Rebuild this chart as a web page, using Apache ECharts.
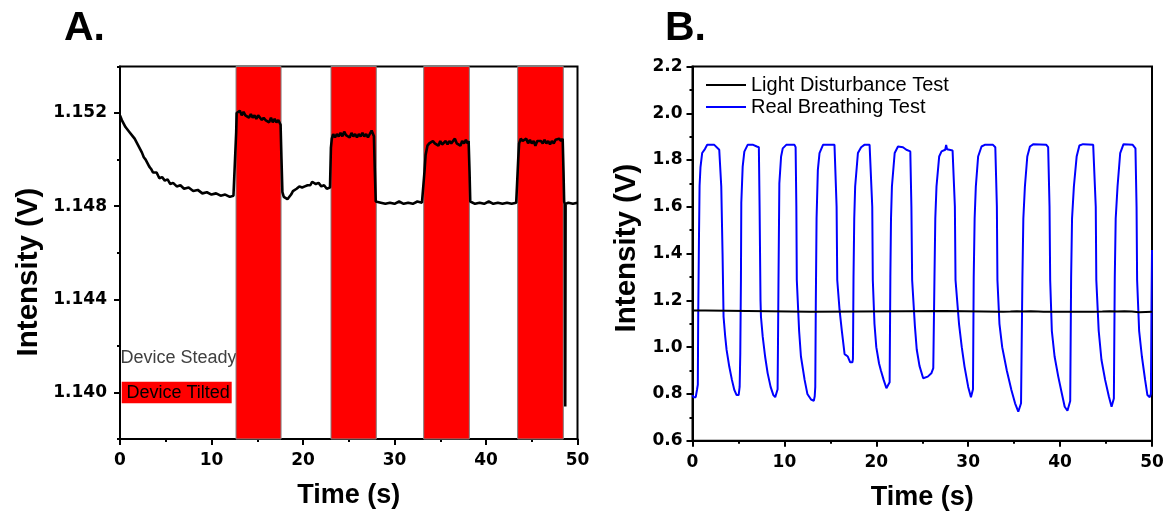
<!DOCTYPE html>
<html><head><meta charset="utf-8">
<script src="https://cdn.jsdelivr.net/npm/echarts@6/dist/echarts.min.js"></script>
<style>html,body{margin:0;padding:0;background:#fff}#c{width:1169px;height:517px}</style>
</head><body><div id="c"></div>
<script>
// ---------- data ----------
const xTicks = [0, 10, 20, 30, 40, 50];
const yTicksA = [1.140, 1.144, 1.148, 1.152];
const yMinorA = [1.138, 1.142, 1.146, 1.150, 1.154];
const tiltBands = [[12.68, 17.6], [23.06, 28.01], [33.19, 38.18], [43.46, 48.45]];

const steadyA = [
  [0,1.1519],[0.2,1.1517],[0.4,1.15165],[0.6,1.1514],[0.8,1.15135],[1.0,1.1512],[1.2,1.15115],[1.4,1.1510],
  [1.6,1.1509],[1.8,1.15085],[2.0,1.1506],[2.2,1.15055],[2.4,1.1503],[2.6,1.1501],[2.8,1.1500],[3.0,1.14985],
  [3.2,1.1497],[3.4,1.1496],[3.6,1.14945],[3.8,1.1494],[4.0,1.14945],[4.3,1.1492],[4.6,1.14925],[4.9,1.1491],
  [5.2,1.14915],[5.5,1.14895],[5.8,1.1490],[6.2,1.14885],[6.6,1.1489],[7.0,1.14875],[7.5,1.1488],[8.0,1.14865],
  [8.5,1.1487],[9.0,1.14855],[9.5,1.1486],[10.0,1.1485],[10.5,1.14855],[11.0,1.14845],[11.5,1.1485],[12.0,1.1484],
  [12.4,1.14845],[12.6,1.1485],
  [12.7,1.1512],[12.75,1.1520],[12.9,1.15195],[13.1,1.1521],[13.3,1.1519],[13.5,1.15205],[13.7,1.1519],[13.9,1.15195],
  [14.1,1.1518],[14.3,1.15195],[14.5,1.1518],[14.7,1.1519],[14.9,1.15175],[15.1,1.1519],[15.3,1.15185],[15.5,1.1517],
  [15.7,1.1518],[15.9,1.1517],[16.1,1.15175],[16.3,1.1516],[16.5,1.1518],[16.7,1.1516],[16.9,1.15175],[17.1,1.1516],
  [17.3,1.1517],[17.55,1.1515],
  [17.65,1.1500],[17.75,1.1486],[17.9,1.1484],[18.1,1.14835],[18.3,1.1483],[18.5,1.14835],[18.7,1.1485],[18.9,1.14865],
  [19.1,1.1487],[19.3,1.14875],[19.6,1.14885],[19.9,1.1488],[20.2,1.14885],[20.5,1.1489],[20.8,1.1489],[21.0,1.14905],
  [21.2,1.1491],[21.4,1.14895],[21.7,1.1490],[22.0,1.14885],[22.3,1.1489],[22.6,1.14875],[22.95,1.1488],
  [23.05,1.1505],[23.15,1.1509],[23.3,1.1511],[23.5,1.15095],[23.7,1.1511],[23.9,1.1510],[24.1,1.15115],[24.3,1.1510],
  [24.5,1.1512],[24.7,1.15105],[24.9,1.1511],[25.1,1.15095],[25.3,1.15115],[25.5,1.1510],[25.7,1.1511],[25.9,1.15095],
  [26.1,1.1511],[26.3,1.1510],[26.5,1.15115],[26.7,1.1510],[26.9,1.1511],[27.1,1.15095],[27.3,1.1511],[27.5,1.15125],
  [27.75,1.1510],
  [27.85,1.1495],[27.95,1.1482],[28.5,1.14815],[29,1.1481],[29.5,1.14815],[30,1.1481],[30.5,1.1482],[31,1.1481],
  [31.5,1.14815],[32,1.1481],[32.5,1.1482],[33.0,1.14815],[33.2,1.1482],
  [33.28,1.1495],[33.4,1.1502],[33.6,1.1506],[33.8,1.1507],[34.0,1.15065],[34.2,1.1508],[34.4,1.1507],[34.6,1.15075],
  [34.8,1.1506],[35.0,1.1508],[35.2,1.15065],[35.4,1.1507],[35.6,1.1508],[35.8,1.15065],[36.0,1.1508],[36.2,1.1507],
  [36.4,1.15075],[36.6,1.1509],[36.8,1.1507],[37.0,1.15075],[37.2,1.1506],[37.4,1.1508],[37.6,1.1507],[37.8,1.15085],
  [38.0,1.1507],[38.1,1.1508],
  [38.2,1.1495],[38.28,1.1482],[38.8,1.1481],[39.3,1.14815],[39.8,1.1481],[40.3,1.1482],[40.8,1.1481],[41.3,1.14815],
  [41.8,1.1481],[42.3,1.14815],[42.8,1.1481],[43.3,1.14815],[43.45,1.1482],
  [43.52,1.1500],[43.62,1.1507],[43.8,1.1509],[44.0,1.1508],[44.2,1.15075],[44.4,1.1509],[44.6,1.1507],[44.8,1.15085],
  [45.0,1.1507],[45.2,1.1508],[45.4,1.1506],[45.6,1.1508],[45.8,1.15075],[46.0,1.1508],[46.2,1.1507],[46.4,1.15085],
  [46.6,1.1507],[46.8,1.1508],[47.0,1.15065],[47.2,1.1508],[47.4,1.1507],[47.6,1.15085],[47.8,1.1508],[48.0,1.1509],
  [48.2,1.1508],[48.38,1.1509],
  [48.47,1.1495],[48.54,1.1482],[48.62,1.1481],[48.66,1.1394],[48.7,1.1481],[49.0,1.14815],[49.5,1.1481],[50,1.14815]
];

const lightB = [
  [0,1.157],[1.4,1.157],[1.5,1.151],[12.8,1.151],[12.9,1.154],[23.2,1.154],[23.3,1.155],[27.5,1.155],
  [27.6,1.151],[33.8,1.151],[34.0,1.153],[34.6,1.152],[35.3,1.153],[36.0,1.152],[36.8,1.153],[37.6,1.152],
  [38.2,1.151],[43.6,1.151],[43.8,1.153],[44.6,1.152],[45.4,1.153],[46.2,1.152],[47.0,1.153],[47.8,1.152],
  [48.6,1.149],[48.8,1.151],[50,1.151]
];

const breathB = [
  [0.0,0.795],[0.1,0.786],[0.35,0.786],[0.5,0.82],[0.58,0.84],
  [0.62,1.13],[0.7,1.45],[0.77,1.69],[0.87,1.77],[1.05,1.83],[1.35,1.847],[1.6,1.865],[2.37,1.865],[2.55,1.858],[2.91,1.844],[3.06,1.837],
  [3.13,1.687],[3.27,1.40],[3.38,1.13],[3.56,1.045],[3.71,0.988],[4.0,0.917],[4.29,0.86],[4.55,0.817],[4.8,0.795],[5.02,0.795],[5.13,0.83],
  [5.2,0.974],[5.27,1.287],[5.31,1.616],[5.46,1.772],[5.64,1.836],[6.0,1.865],[6.6,1.865],[7.0,1.858],[7.22,1.855],
  [7.3,1.60],[7.4,1.2],[7.45,1.13],[7.64,1.045],[7.9,0.96],[8.18,0.888],[8.5,0.83],[8.8,0.795],[9.0,0.786],[9.2,0.79],[9.26,0.82],
  [9.3,1.0],[9.36,1.3],[9.45,1.70],[9.64,1.815],[9.82,1.85],[10.2,1.865],[11.1,1.865],[11.22,1.855],
  [11.3,1.6],[11.35,1.287],[11.6,1.07],[11.8,0.96],[12.2,0.86],[12.5,0.80],[12.9,0.776],[13.2,0.771],[13.3,0.79],[13.36,0.83],
  [13.42,1.2],[13.5,1.55],[13.64,1.758],[13.82,1.83],[14.2,1.865],[15.45,1.865],[15.6,1.86],
  [15.68,1.6],[15.75,1.287],[16.0,1.16],[16.25,1.07],[16.55,0.97],[16.9,0.96],[17.16,0.935],[17.4,0.935],[17.46,0.95],
  [17.52,1.3],[17.6,1.55],[17.7,1.687],[18.0,1.83],[18.35,1.855],[18.7,1.865],[19.27,1.865],[19.45,1.858],
  [19.56,1.6],[19.62,1.287],[19.8,1.10],[20.0,1.0],[20.3,0.93],[20.5,0.90],[20.8,0.86],[21.1,0.824],[21.3,0.83],[21.45,0.85],
  [21.53,1.3],[21.6,1.55],[21.7,1.687],[22.0,1.83],[22.36,1.858],[22.55,1.862],[22.9,1.855],[23.27,1.844],[23.7,1.837],
  [23.82,1.6],[23.9,1.287],[24.2,1.09],[24.4,0.99],[24.7,0.92],[25.1,0.867],[25.6,0.874],[25.99,0.888],[26.2,0.91],
  [26.33,1.3],[26.42,1.55],[26.55,1.687],[26.84,1.815],[27.1,1.837],[27.5,1.844],[27.6,1.865],[27.7,1.846],[28.3,1.841],[28.45,1.838],
  [28.55,1.6],[28.62,1.287],[29.0,1.10],[29.3,1.0],[29.6,0.917],[30.0,0.83],[30.3,0.786],[30.45,0.79],[30.52,0.82],
  [30.6,1.3],[30.7,1.55],[30.83,1.687],[31.08,1.815],[31.45,1.858],[31.8,1.865],[32.7,1.865],[32.95,1.855],
  [33.12,1.6],[33.18,1.287],[33.4,1.10],[33.7,1.0],[34.2,0.90],[34.7,0.817],[35.1,0.76],[35.45,0.724],[35.65,0.728],[35.75,0.76],
  [35.9,1.3],[36.0,1.55],[36.17,1.687],[36.43,1.815],[36.72,1.858],[37.1,1.868],[38.5,1.865],[38.7,1.855],
  [38.85,1.6],[38.92,1.287],[39.1,1.07],[39.4,0.96],[39.8,0.874],[40.2,0.80],[40.5,0.745],[40.8,0.728],[41.0,0.735],[41.1,0.77],
  [41.2,1.3],[41.3,1.55],[41.5,1.687],[41.8,1.815],[42.1,1.862],[42.5,1.868],[43.6,1.865],[43.75,1.858],
  [43.88,1.6],[43.94,1.287],[44.2,1.07],[44.5,0.946],[44.9,0.86],[45.3,0.79],[45.6,0.745],[45.75,0.75],[45.85,0.78],
  [45.95,1.3],[46.05,1.55],[46.25,1.687],[46.54,1.83],[46.9,1.868],[47.9,1.865],[48.2,1.85],
  [48.32,1.6],[48.38,1.287],[48.6,1.07],[48.9,0.96],[49.25,0.86],[49.5,0.795],[49.75,0.786],[49.88,0.80],[49.95,1.2],[50.0,1.415]
];

// ---------- chart ----------
const chart = echarts.init(document.getElementById('c'), null, {renderer: 'canvas'});
const tickFont = {fontFamily: 'DejaVu Sans', fontWeight: 'bold', fontSize: 17, color: '#000'};
const titleFont = {fontFamily: 'Liberation Sans', fontWeight: 'bold', fontSize: 27, color: '#000'};
const lineBlack = {color: '#000', width: 2};

function xAxisFor(gi) {
  return {
    gridIndex: gi, type: 'value', min: xTicks[0], max: xTicks[xTicks.length - 1], interval: 10,
    axisLine: {show: true, onZero: false, lineStyle: lineBlack},
    axisTick: {show: true, inside: false, length: 6, lineStyle: lineBlack},
    minorTick: {show: true, splitNumber: 2, length: 3, lineStyle: lineBlack},
    splitLine: {show: false}, minorSplitLine: {show: false},
    axisLabel: Object.assign({margin: 13}, tickFont),
    name: 'Time (s)', nameLocation: 'middle', nameGap: 43, nameTextStyle: titleFont
  };
}

const option = {
  animation: false,
  backgroundColor: '#fff',
  grid: [
    {left: 120, top: 66.5, width: 457.5, height: 372.5, show: true, borderColor: '#000', borderWidth: 2, backgroundColor: 'transparent'},
    {left: 692.5, top: 66.5, width: 459.5, height: 374.2, show: true, borderColor: '#000', borderWidth: 2, backgroundColor: 'transparent'}
  ],
  xAxis: [xAxisFor(0), xAxisFor(1)],
  yAxis: [
    {
      gridIndex: 0, type: 'value', min: 1.138, max: 1.154, position: 'left',
      axisLine: {show: true, onZero: false, lineStyle: lineBlack},
      axisTick: {show: true, inside: false, length: 6, lineStyle: lineBlack, customValues: yTicksA},
      splitLine: {show: false},
      axisLabel: Object.assign({margin: 13, customValues: yTicksA, formatter: v => v.toFixed(3)}, tickFont)
    },
    {
      gridIndex: 0, type: 'value', min: 1.138, max: 1.154, position: 'left', offset: 0,
      axisLine: {show: false},
      axisTick: {show: true, inside: false, length: 3, lineStyle: lineBlack, customValues: yMinorA},
      splitLine: {show: false},
      axisLabel: {show: false}
    },
    {
      gridIndex: 1, type: 'value', min: 0.6, max: 2.2, interval: 0.2, position: 'left',
      axisLine: {show: true, onZero: false, lineStyle: lineBlack},
      axisTick: {show: true, inside: false, length: 6, lineStyle: lineBlack},
      minorTick: {show: true, splitNumber: 2, length: 3, lineStyle: lineBlack},
      splitLine: {show: false}, minorSplitLine: {show: false},
      axisLabel: Object.assign({margin: 10, formatter: v => v.toFixed(1)}, tickFont)
    }
  ],
  legend: {
    left: 706, top: 75, orient: 'vertical', padding: 0, itemGap: 2,
    itemWidth: 40, itemHeight: 2, icon: 'rect',
    textStyle: {fontFamily: 'Liberation Sans', fontSize: 20, color: '#000', lineHeight: 20},
    data: ['Light Disturbance Test', 'Real Breathing Test']
  },
  series: [
    {
      name: 'tilt', type: 'line', xAxisIndex: 0, yAxisIndex: 0, data: [], z: 1, silent: true,
      markArea: {
        silent: true,
        itemStyle: {color: '#ff0000', borderColor: '#808080', borderWidth: 1},
        data: tiltBands.map(b => [{xAxis: b[0]}, {xAxis: b[1]}])
      }
    },
    {
      name: 'steady', type: 'line', xAxisIndex: 0, yAxisIndex: 0, data: steadyA, z: 3,
      symbol: 'none', showSymbol: false, lineStyle: {color: '#000', width: 2.6}
    },
    {
      name: 'Real Breathing Test', type: 'line', xAxisIndex: 1, yAxisIndex: 2, data: breathB, z: 2,
      symbol: 'none', showSymbol: false, itemStyle: {color: '#0000ff'}, lineStyle: {color: '#0000ff', width: 2}
    },
    {
      name: 'Light Disturbance Test', type: 'line', xAxisIndex: 1, yAxisIndex: 2, data: lightB, z: 3,
      symbol: 'none', showSymbol: false, itemStyle: {color: '#000'}, lineStyle: {color: '#000', width: 2}
    }
  ],
  graphic: [
    {type: 'text', style: {text: 'A.', x: 64, y: 29, font: 'bold 41px "Liberation Sans"', fill: '#000', verticalAlign: 'middle', textVerticalAlign: 'middle'}},
    {type: 'text', style: {text: 'B.', x: 665, y: 29, font: 'bold 41px "Liberation Sans"', fill: '#000', verticalAlign: 'middle', textVerticalAlign: 'middle'}},
    {type: 'text', x: 29, y: 272, rotation: Math.PI / 2,
     style: {text: 'Intensity (V)', x: 0, y: 0, font: 'bold 29.5px "Liberation Sans"', fill: '#000', align: 'center', textAlign: 'center', verticalAlign: 'middle', textVerticalAlign: 'middle'}},
    {type: 'text', x: 627, y: 248, rotation: Math.PI / 2,
     style: {text: 'Intensity (V)', x: 0, y: 0, font: 'bold 29.5px "Liberation Sans"', fill: '#000', align: 'center', textAlign: 'center', verticalAlign: 'middle', textVerticalAlign: 'middle'}},
    {type: 'text', style: {text: 'Device Steady', x: 120.5, y: 358.5, font: '18px "Liberation Sans"', fill: '#404040', verticalAlign: 'middle', textVerticalAlign: 'middle'}},
    {type: 'rect', shape: {x: 121.7, y: 381.7, width: 110, height: 21.6}, style: {fill: '#ff0000'}},
    {type: 'text', style: {text: 'Device Tilted', x: 126.5, y: 393, font: '18px "Liberation Sans"', fill: '#000', verticalAlign: 'middle', textVerticalAlign: 'middle'}}
  ]
};
chart.setOption(option);
</script>
</body></html>
